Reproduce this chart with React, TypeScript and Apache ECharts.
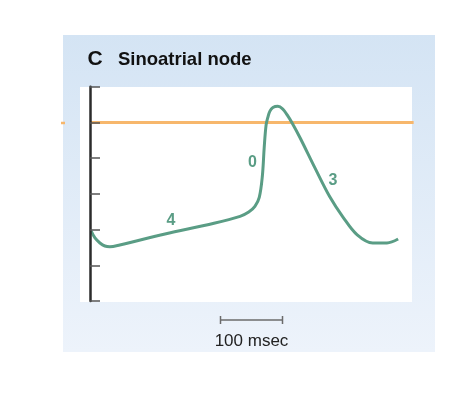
import React, { useEffect, useRef } from "react";
import * as echarts from "echarts";

// Time (ms) and membrane potential (mV) of the SA node action potential
const timeMs = [2, 8, 16, 24, 32, 48, 121, 200, 242, 256, 266, 273, 278, 281, 284, 287, 290, 295, 303, 311, 318, 326, 339, 363, 387, 408, 431, 456, 479, 497];
const voltage = [-60.8, -64.7, -67.5, -69.2, -69.6, -68.6, -62.5, -56.5, -52.6, -50.2, -47, -42, -30, -14, -1.5, 3, 6.2, 8.3, 9, 7.5, 4.2, -0.3, -8.7, -25.6, -41.8, -53, -63, -67.5, -67.5, -65.3];
const thresholdMv = [0, 0];
const thresholdMs = [0, 522];
const phaseLabels = ["4", "0", "3"];
const scaleBarMs = 100;
const scaleBarLabel = "100 msec";

const X_MAX = 520;
const GRID_LEFT = 90;
const GRID_TOP = 86.7;
const GRID_W = 322.4;
const GRID_H = 214.3;

export default function App() {
  const ref = useRef<HTMLDivElement>(null);
  useEffect(() => {
    if (!ref.current) return;
    const chart = echarts.init(ref.current, null, { renderer: "svg" });
    const green = "#5a9d85";
    const orange = "#f7b76c";
    const pxPerMs = GRID_W / X_MAX;
    const barX0 = GRID_LEFT + 210.5 * pxPerMs;
    const barX1 = barX0 + scaleBarMs * pxPerMs;
    const barY = 320;
    const font = "'Liberation Sans', Arial, sans-serif";
    chart.setOption({
      animation: false,
      grid: { left: GRID_LEFT, top: GRID_TOP, width: GRID_W, height: GRID_H },
      xAxis: {
        type: "value",
        min: 0,
        max: X_MAX,
        show: false,
      },
      yAxis: {
        type: "value",
        min: -100,
        max: 20,
        interval: 20,
        axisLine: { show: true, lineStyle: { color: "#2b2b2b", width: 2.5 } },
        axisTick: { show: true, inside: true, length: 10, lineStyle: { color: "#555", width: 1.5 } },
        axisLabel: { show: false },
        splitLine: { show: false },
        z: 3,
      },
      graphic: [
        {
          type: "rect",
          z: -10,
          shape: { x: 63, y: 35, width: 372, height: 317 },
          style: {
            fill: new echarts.graphic.LinearGradient(0, 0, 0, 1, [
              { offset: 0, color: "#d4e4f4" },
              { offset: 1, color: "#edf3fb" },
            ]),
          },
        },
        {
          type: "rect",
          z: -9,
          shape: { x: 80, y: 87, width: 332, height: 215 },
          style: { fill: "#ffffff" },
        },
        {
          type: "line",
          shape: { x1: 61, y1: 123, x2: 65, y2: 123 },
          style: { stroke: orange, lineWidth: 2.5 },
        },
        {
          type: "text",
          x: 87.5,
          y: 57.5,
          style: { text: "C", font: `bold 21px ${font}`, fill: "#111", verticalAlign: "middle" },
        },
        {
          type: "text",
          x: 118,
          y: 58.5,
          style: { text: "Sinoatrial node", font: `bold 18.5px ${font}`, fill: "#111", verticalAlign: "middle" },
        },
        {
          type: "text",
          x: 171,
          y: 219,
          style: { text: phaseLabels[0], font: `bold 16px ${font}`, fill: green, align: "center", verticalAlign: "middle" },
        },
        {
          type: "text",
          x: 252.5,
          y: 161.5,
          style: { text: phaseLabels[1], font: `bold 16px ${font}`, fill: green, align: "center", verticalAlign: "middle" },
        },
        {
          type: "text",
          x: 333,
          y: 179,
          style: { text: phaseLabels[2], font: `bold 16px ${font}`, fill: green, align: "center", verticalAlign: "middle" },
        },
        {
          type: "line",
          shape: { x1: barX0, y1: barY, x2: barX1, y2: barY },
          style: { stroke: "#6b6b6b", lineWidth: 1.5 },
        },
        {
          type: "line",
          shape: { x1: barX0, y1: barY - 4, x2: barX0, y2: barY + 4 },
          style: { stroke: "#6b6b6b", lineWidth: 1.5 },
        },
        {
          type: "line",
          shape: { x1: barX1, y1: barY - 4, x2: barX1, y2: barY + 4 },
          style: { stroke: "#6b6b6b", lineWidth: 1.5 },
        },
        {
          type: "text",
          x: (barX0 + barX1) / 2,
          y: 340.5,
          style: { text: scaleBarLabel, font: `17px ${font}`, fill: "#222", align: "center", verticalAlign: "middle" },
        },
      ],
      series: [
        {
          type: "line",
          data: thresholdMs.map((t, i) => [t, thresholdMv[i]]),
          showSymbol: false,
          lineStyle: { color: orange, width: 3 },
          z: 1,
          clip: false,
        },
        {
          type: "line",
          data: timeMs.map((t, i) => [t, voltage[i]]),
          smooth: 0.35,
          showSymbol: false,
          lineStyle: { color: green, width: 3 },
          z: 2,
        },
      ],
    });
    return () => chart.dispose();
  }, []);
  return <div ref={ref} style={{ position: "fixed", left: 0, top: 0, width: 474, height: 399 }} />;
}
